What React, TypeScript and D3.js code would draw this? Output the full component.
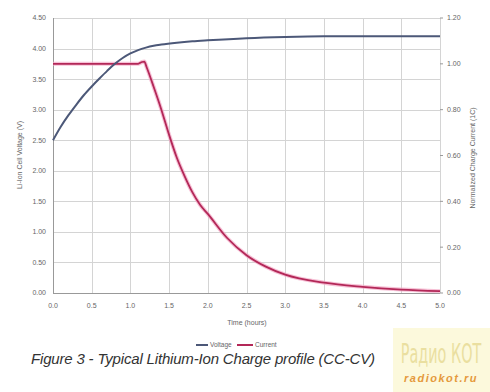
import React, { useEffect, useRef } from "react";
import * as d3 from "d3";

const timeTicks = [0, 0.5, 1, 1.5, 2, 2.5, 3, 3.5, 4, 4.5, 5];
const voltageTicks = [0, 0.5, 1, 1.5, 2, 2.5, 3, 3.5, 4, 4.5];
const currentTicks = [0, 0.2, 0.4, 0.6, 0.8, 1.0, 1.2];

const voltageTime = [0, 0.1, 0.2, 0.3, 0.4, 0.5, 0.6, 0.7, 0.8, 0.9, 1.0, 1.1, 1.2, 1.3, 1.4, 1.6, 1.8, 2.0, 2.5, 3.0, 3.5, 4.0, 4.5, 5.0];
const voltage = [2.5, 2.72, 2.91, 3.08, 3.24, 3.38, 3.51, 3.635, 3.75, 3.845, 3.92, 3.975, 4.015, 4.045, 4.065, 4.095, 4.118, 4.135, 4.17, 4.19, 4.2, 4.2, 4.2, 4.2];

const currentTime = [0, 0.5, 1.0, 1.1, 1.15, 1.18, 1.21, 1.3, 1.4, 1.5, 1.6, 1.7, 1.8, 1.9, 2.0, 2.25, 2.5, 2.75, 3.0, 3.5, 4.0, 4.5, 5.0];
const current = [1.0, 1.0, 1.0, 1.0, 1.008, 1.01, 0.985, 0.9, 0.8, 0.69, 0.59, 0.51, 0.44, 0.385, 0.345, 0.24, 0.165, 0.115, 0.08, 0.045, 0.027, 0.015, 0.008];

const width = 490;
const height = 392;
const margin = { top: 18, right: 50, bottom: 99, left: 53 };

export default function App() {
  const ref = useRef<SVGSVGElement>(null);

  useEffect(() => {
    const svg = d3.select(ref.current);
    svg.selectAll("*").remove();

    const x = d3.scaleLinear().domain([0, 5]).range([margin.left, width - margin.right]);
    const yV = d3.scaleLinear().domain([0, 4.5]).range([height - margin.bottom, margin.top]);
    const yC = d3.scaleLinear().domain([0, 1.2]).range([height - margin.bottom, margin.top]);
    const font = "'Liberation Sans', Arial, sans-serif";

    svg.append("rect").attr("width", width).attr("height", height).attr("fill", "#fff");

    // grid
    const grid = svg.append("g").attr("stroke", "#d4d4d4").attr("stroke-width", 1);
    grid.selectAll("line.v").data(timeTicks).enter().append("line")
      .attr("x1", d => Math.round(x(d)) + 0.5).attr("x2", d => Math.round(x(d)) + 0.5)
      .attr("y1", yV(4.5)).attr("y2", yV(0));
    grid.selectAll("line.h").data(voltageTicks).enter().append("line")
      .attr("x1", x(0)).attr("x2", x(5))
      .attr("y1", d => Math.round(yV(d)) + 0.5).attr("y2", d => Math.round(yV(d)) + 0.5);

    // axes lines
    svg.append("line").attr("x1", Math.round(x(0)) + 0.5).attr("x2", Math.round(x(0)) + 0.5)
      .attr("y1", yV(4.5)).attr("y2", yV(0)).attr("stroke", "#999");
    svg.append("line").attr("x1", x(0)).attr("x2", x(5))
      .attr("y1", Math.round(yV(0)) + 0.5).attr("y2", Math.round(yV(0)) + 0.5).attr("stroke", "#999");

    // right ticks
    svg.selectAll("line.rt").data(currentTicks).enter().append("line")
      .attr("x1", x(5)).attr("x2", x(5) + 3)
      .attr("y1", d => yC(d)).attr("y2", d => yC(d)).attr("stroke", "#999");

    const labels = svg.append("g").attr("font-family", font).attr("font-size", 7).attr("fill", "#666");
    labels.selectAll("text.l").data(voltageTicks).enter().append("text")
      .attr("x", x(0) - 7).attr("y", d => yV(d)).attr("dy", "0.35em")
      .attr("text-anchor", "end").text(d => d3.format(".2f")(d));
    labels.selectAll("text.r").data(currentTicks).enter().append("text")
      .attr("x", x(5) + 7).attr("y", d => yC(d)).attr("dy", "0.35em")
      .text(d => d3.format(".2f")(d));
    labels.selectAll("text.b").data(timeTicks).enter().append("text")
      .attr("x", d => x(d)).attr("y", yV(0) + 13).attr("dy", "0.35em")
      .attr("text-anchor", "middle").text(d => d3.format(".1f")(d));

    labels.append("text").attr("x", 247).attr("y", 323).attr("dy", "0.35em")
      .attr("text-anchor", "middle").text("Time (hours)");
    labels.append("text").attr("transform", "translate(20,155) rotate(-90)")
      .attr("dy", "0.35em").attr("text-anchor", "middle").text("Li-Ion Cell Voltage (V)");
    labels.append("text").attr("transform", "translate(473,158) rotate(-90)")
      .attr("dy", "0.35em").attr("text-anchor", "middle").text("Normalized Charge Current (1C)");

    // lines
    const vLine = d3.line<number>().x((d, i) => x(voltageTime[i])).y(d => yV(d)).curve(d3.curveMonotoneX);
    const cLine = d3.line<number>().x((d, i) => x(currentTime[i])).y(d => yC(d)).curve(d3.curveMonotoneX);

    svg.append("path").attr("d", cLine(current)).attr("fill", "none")
      .attr("stroke", "#f2a6c4").attr("stroke-width", 4).attr("opacity", 0.7);
    svg.append("path").attr("d", cLine(current)).attr("fill", "none")
      .attr("stroke", "#b32858").attr("stroke-width", 1.8);
    svg.append("path").attr("d", vLine(voltage)).attr("fill", "none")
      .attr("stroke", "#4c5878").attr("stroke-width", 2);

    // legend
    const legend = svg.append("g").attr("font-family", font).attr("font-size", 6.5).attr("fill", "#666");
    legend.append("line").attr("x1", 196).attr("x2", 208).attr("y1", 345).attr("y2", 345)
      .attr("stroke", "#4c5878").attr("stroke-width", 2);
    legend.append("text").attr("x", 210).attr("y", 345).attr("dy", "0.35em").text("Voltage");
    legend.append("line").attr("x1", 237).attr("x2", 253).attr("y1", 345).attr("y2", 345)
      .attr("stroke", "#b32858").attr("stroke-width", 2);
    legend.append("text").attr("x", 255).attr("y", 345).attr("dy", "0.35em").text("Current");

    // caption
    svg.append("text").attr("x", 31).attr("y", 364).attr("font-family", font)
      .attr("font-size", 15).attr("font-style", "italic").attr("fill", "#333")
      .attr("textLength", 344).text("Figure 3 - Typical Lithium-Ion Charge profile (CC-CV)");

    // watermark
    svg.append("rect").attr("x", 393).attr("y", 328).attr("width", 97).attr("height", 64).attr("fill", "#fcf9dc");
    svg.append("g").attr("transform", "translate(441,363) scale(1,1.7)")
      .append("text").attr("text-anchor", "middle")
      .attr("font-family", "'DejaVu Sans Condensed', sans-serif")
      .attr("font-size", 16).attr("fill", "#eadfa0").text("Радио КОТ");
    svg.append("text").attr("x", 441).attr("y", 382).attr("text-anchor", "middle").attr("font-family", font)
      .attr("font-size", 11).attr("font-style", "italic").attr("font-weight", "bold")
      .attr("letter-spacing", 1.5).attr("fill", "#e59a3c").text("radiokot.ru");
  }, []);

  return (
    <svg ref={ref} width={width} height={height}
      style={{ position: "absolute", left: 0, top: 0 }} />
  );
}
